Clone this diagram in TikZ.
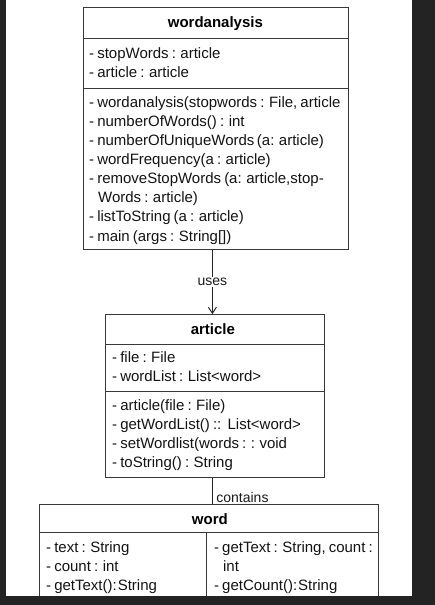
\documentclass[tikz,border=0pt]{standalone}
\usepackage{fontspec}
\setmainfont{Liberation Sans}[WordSpace={0.75,0,0}]
\usetikzlibrary{arrows.meta}
\definecolor{frame}{HTML}{232323}
\definecolor{edge}{HTML}{383838}
\begin{document}
\begin{tikzpicture}[x=1pt,y=-1pt,
  box/.style={draw=edge, line width=1pt, fill=white, inner sep=0pt, anchor=north west},
  sep/.style={draw=edge, line width=1pt},
  txt/.style={anchor=west, inner sep=0pt, text height=11pt, text depth=3pt, font=\fontsize{15}{18}\selectfont, text=black!92},
  ttl/.style={inner sep=0pt, font=\fontsize{15}{18}\selectfont\bfseries, text=black},
  lbl/.style={font=\fontsize{14}{16}\selectfont, text=black!90},
  conn/.style={draw=black!85, line width=1pt}]
% background frame
\fill[frame] (0,0) rectangle (435,605);
\fill[white] (6,0) rectangle (412,596);
\draw[black!25, line width=0.6pt] (412,0) -- (412,596);

% ---------- wordanalysis ----------
\node[box, minimum width=265pt, minimum height=242pt] (wa) at (83,7) {};
\draw[sep] (83,38) -- (348,38);
\draw[sep] (83,88) -- (348,88);
\node[ttl] (waT) at (215.5,23) {wordanalysis};
\node[txt] (wa1) at (89,54) {- stopWords : article};
\node[txt] (wa2) at (89,73) {- article : article};
\node[txt] (wa3) at (89,103) {- wordanalysis(stopwords : File, article};
\node[txt] (wa4) at (89,122) {- numberOfWords() : int};
\node[txt] (wa5) at (89,141) {- numberOfUniqueWords\hspace{2.5pt}(a: article)};
\node[txt] (wa6) at (89,160.5) {- wordFrequency(a : article)};
\node[txt] (wa7) at (89,179.5) {- removeStopWords (a: article,stop-};
\node[txt] (wa8) at (98,198.5) {Words : article)};
\node[txt] (wa9) at (89,217.5) {- listToString (a : article)};
\node[txt] (wa10) at (89,237) {- main (args : String[])};

% ---------- article ----------
\node[box, minimum width=219pt, minimum height=163pt] (art) at (105,314) {};
\draw[sep] (105,344) -- (324,344);
\draw[sep] (105,391) -- (324,391);
\node[ttl] (artT) at (213,329) {article};
\node[txt] (ar1) at (112,358) {- file : File};
\node[txt] (ar2) at (112,377) {- wordList : List<word>};
\node[txt] (ar3) at (112,406) {- article(file : File)};
\node[txt] (ar4) at (112,425) {- getWordList() ::\ \ List<word>};
\node[txt] (ar5) at (112,444) {- setWordlist(words : : void};
\node[txt] (ar6) at (112,463) {- toString() : String};

% ---------- word ----------
\node[box, minimum width=339pt, minimum height=100pt] (word) at (39,504) {};
\draw[sep] (39,532) -- (378,532);
\draw[sep] (207,532) -- (207,604);
\node[ttl] (wT) at (210,519) {word};
\node[txt] (w1) at (46,548) {- text : String};
\node[txt] (w2) at (46,567) {- count : int};
\node[txt] (w3) at (46,586) {- getText():\hspace{1pt}String};
\node[txt] (w4) at (214,548) {- getText : String, count :};
\node[txt] (w5) at (223,567) {int};
\node[txt] (w6) at (214,586) {- getCount():\hspace{1pt}String};

% ---------- connectors ----------
\draw[conn, -{Straight Barb[length=6pt, width=8pt]}]
  ([xshift=-2.5pt]art.north |- wa.south) -- node[lbl, fill=white, inner sep=1pt] (uses) {uses} ([xshift=-2.5pt]art.north);
\draw[conn] ([xshift=-2.5pt]art.south) -- ([xshift=-2.5pt]art.south |- word.north)
  node[lbl, anchor=base west, inner sep=0pt, xshift=3.5pt, yshift=1.5pt] (cont) {contains};

% bottom frame strip over the cut-off box
\fill[frame] (0,596) rectangle (435,605);
\fill[frame] (412.3,0) rectangle (435,605);
\end{tikzpicture}
\end{document}
